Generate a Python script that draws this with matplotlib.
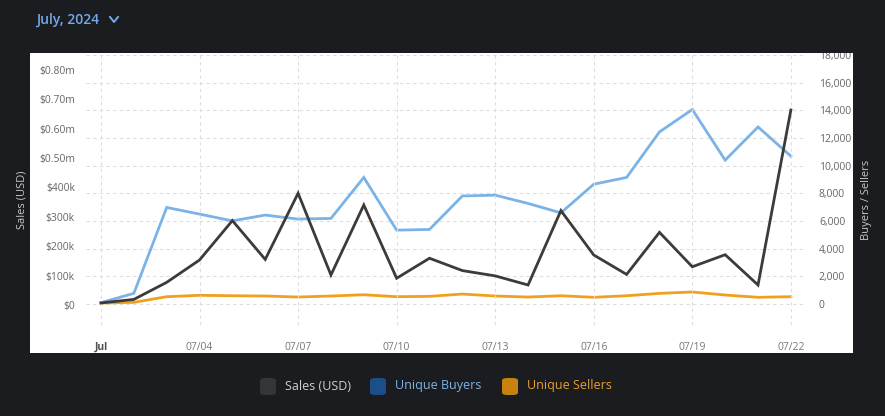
import matplotlib
matplotlib.use("Agg")
import matplotlib.pyplot as plt
from matplotlib.patches import Rectangle, FancyBboxPatch
from matplotlib.lines import Line2D
from matplotlib.ticker import FuncFormatter

plt.rcParams['font.family'] = ['Open Sans', 'DejaVu Sans']

dates = ["07/01", "07/02", "07/03", "07/04", "07/05", "07/06", "07/07", "07/08",
         "07/09", "07/10", "07/11", "07/12", "07/13", "07/14", "07/15", "07/16",
         "07/17", "07/18", "07/19", "07/20", "07/21", "07/22"]
sales = [7000, 19000, 77000, 153000, 287000, 155000, 380000, 102000, 340000, 91000,
         159000, 117000, 99000, 68000, 321000, 170000, 104000, 247000, 130000, 171000,
         68000, 663000]
buyers = [100, 770, 6980, 6500, 6010, 6430, 6140, 6190, 9150, 5340, 5390, 7810,
          7870, 7270, 6590, 8660, 9150, 12440, 14060, 10400, 12800, 10690]
sellers = [70, 120, 530, 630, 600, 580, 505, 580, 670, 530, 555, 720, 580, 505,
           600, 485, 600, 770, 870, 650, 485, 530]
xtick_labels = ["Jul", "07/04", "07/07", "07/10", "07/13", "07/16", "07/19", "07/22"]
left_ticks = [0, 100000, 200000, 300000, 400000, 500000, 600000, 700000, 800000]
right_ticks = [0, 2000, 4000, 6000, 8000, 10000, 12000, 14000, 16000, 18000]

BG = "#1b1c1f"
C_SALES = "#3b3b3c"
C_BUY = "#7ab3e6"
C_SELL = "#f0a01e"

W, H = 885, 416
fig = plt.figure(figsize=(W / 100, H / 100), dpi=100, facecolor=BG)

# white panel
fig.patches.append(Rectangle((30 / W, 1 - 353 / H), (853 - 30) / W, (353 - 53) / H,
                             transform=fig.transFigure, facecolor="white",
                             edgecolor="none", zorder=0))

ax = fig.add_axes([86 / W, 1 - 325 / H, (805 - 86) / W, (325 - 55) / H])
ax.set_facecolor("none")
ax2 = ax.twinx()
ax.set_zorder(2)
ax2.set_zorder(1)
ax.patch.set_visible(False)

x = list(range(len(dates)))
ax2.plot(x, buyers, color=C_BUY, lw=2.0, solid_joinstyle="miter", zorder=3)
ax2.plot(x, sellers, color=C_SELL, lw=2.0, solid_joinstyle="miter", zorder=2)
ax.plot(x, sales, color=C_SALES, lw=2.0, solid_joinstyle="miter", zorder=4)

ax.set_xlim(-0.456, 21.43)
ax.set_ylim(-68000, 850000)
ax2.set_ylim(-1516, 18000)

ax.set_xticks([0, 3, 6, 9, 12, 15, 18, 21])
ax.set_xticklabels(xtick_labels)
for i, t in enumerate(ax.get_xticklabels()):
    if i == 0:
        t.set_color("#505050")
        t.set_fontweight("bold")
    else:
        t.set_color("#777777")

def lfmt(v, p):
    if v >= 500000:
        return "${:.2f}m".format(v / 1e6)
    if v == 0:
        return "$0"
    return "${:d}k".format(int(round(v / 1000)))

ax.set_yticks(left_ticks)
ax.yaxis.set_major_formatter(FuncFormatter(lfmt))
ax2.set_yticks(right_ticks)
ax2.yaxis.set_major_formatter(FuncFormatter(lambda v, p: "{:,}".format(int(v))))

ax.tick_params(axis="y", length=0, pad=8, labelsize=7.5, labelcolor="#666666")
ax.tick_params(axis="x", length=0, pad=12, labelsize=7.5)
ax2.tick_params(axis="y", length=0, pad=10, labelsize=7.5, labelcolor="#666666")

ax.grid(axis="x", color="#dddddd", ls=(0, (3, 3)), lw=0.8)
ax2.grid(axis="y", color="#dddddd", ls=(0, (3, 3)), lw=0.8)
ax2.set_axisbelow(True)
for a in (ax, ax2):
    for s in a.spines.values():
        s.set_visible(False)

# mask so the top right-axis label is clipped by the panel edge, as in the reference
fig.add_artist(Rectangle((760 / W, 1 - 53 / H), 95 / W, 15 / H,
                         transform=fig.transFigure, facecolor=BG,
                         edgecolor="none", zorder=10))

fig.text(22 / W, 1 - 200 / H, "Sales (USD)", rotation=90, color="#c8c8c8",
         fontsize=8, ha="center", va="center")
fig.text(866 / W, 1 - 200 / H, "Buyers / Sellers", rotation=90, color="#c8c8c8",
         fontsize=8, ha="center", va="center")

# title
fig.text(36 / W, 1 - 20 / H, "July, 2024", color="#72aaea", fontsize=10,
         fontweight="semibold", ha="left", va="center")
fig.lines.append(Line2D([110 / W, 114 / W, 118 / W], [1 - 17 / H, 1 - 22 / H, 1 - 17 / H],
                        transform=fig.transFigure, color="#72aaea", lw=1.4))

# legend
items = [("Sales (USD)", "#33373a", "#d0d0d0", 260),
         ("Unique Buyers", "#1b4f8a", "#7fb2e5", 370),
         ("Unique Sellers", "#c8820f", "#e8a030", 502)]
for label, sq, tc, x0 in items:
    fig.patches.append(FancyBboxPatch((x0 / W, 1 - 395 / H), 16 / W, 17 / H,
                                      boxstyle="round,pad=0,rounding_size=0.006",
                                      transform=fig.transFigure, facecolor=sq,
                                      edgecolor="none"))
    fig.text((x0 + 25) / W, 1 - 386 / H, label, color=tc, fontsize=9,
             ha="left", va="center")

fig.savefig("out.png", dpi=100, facecolor=BG)
